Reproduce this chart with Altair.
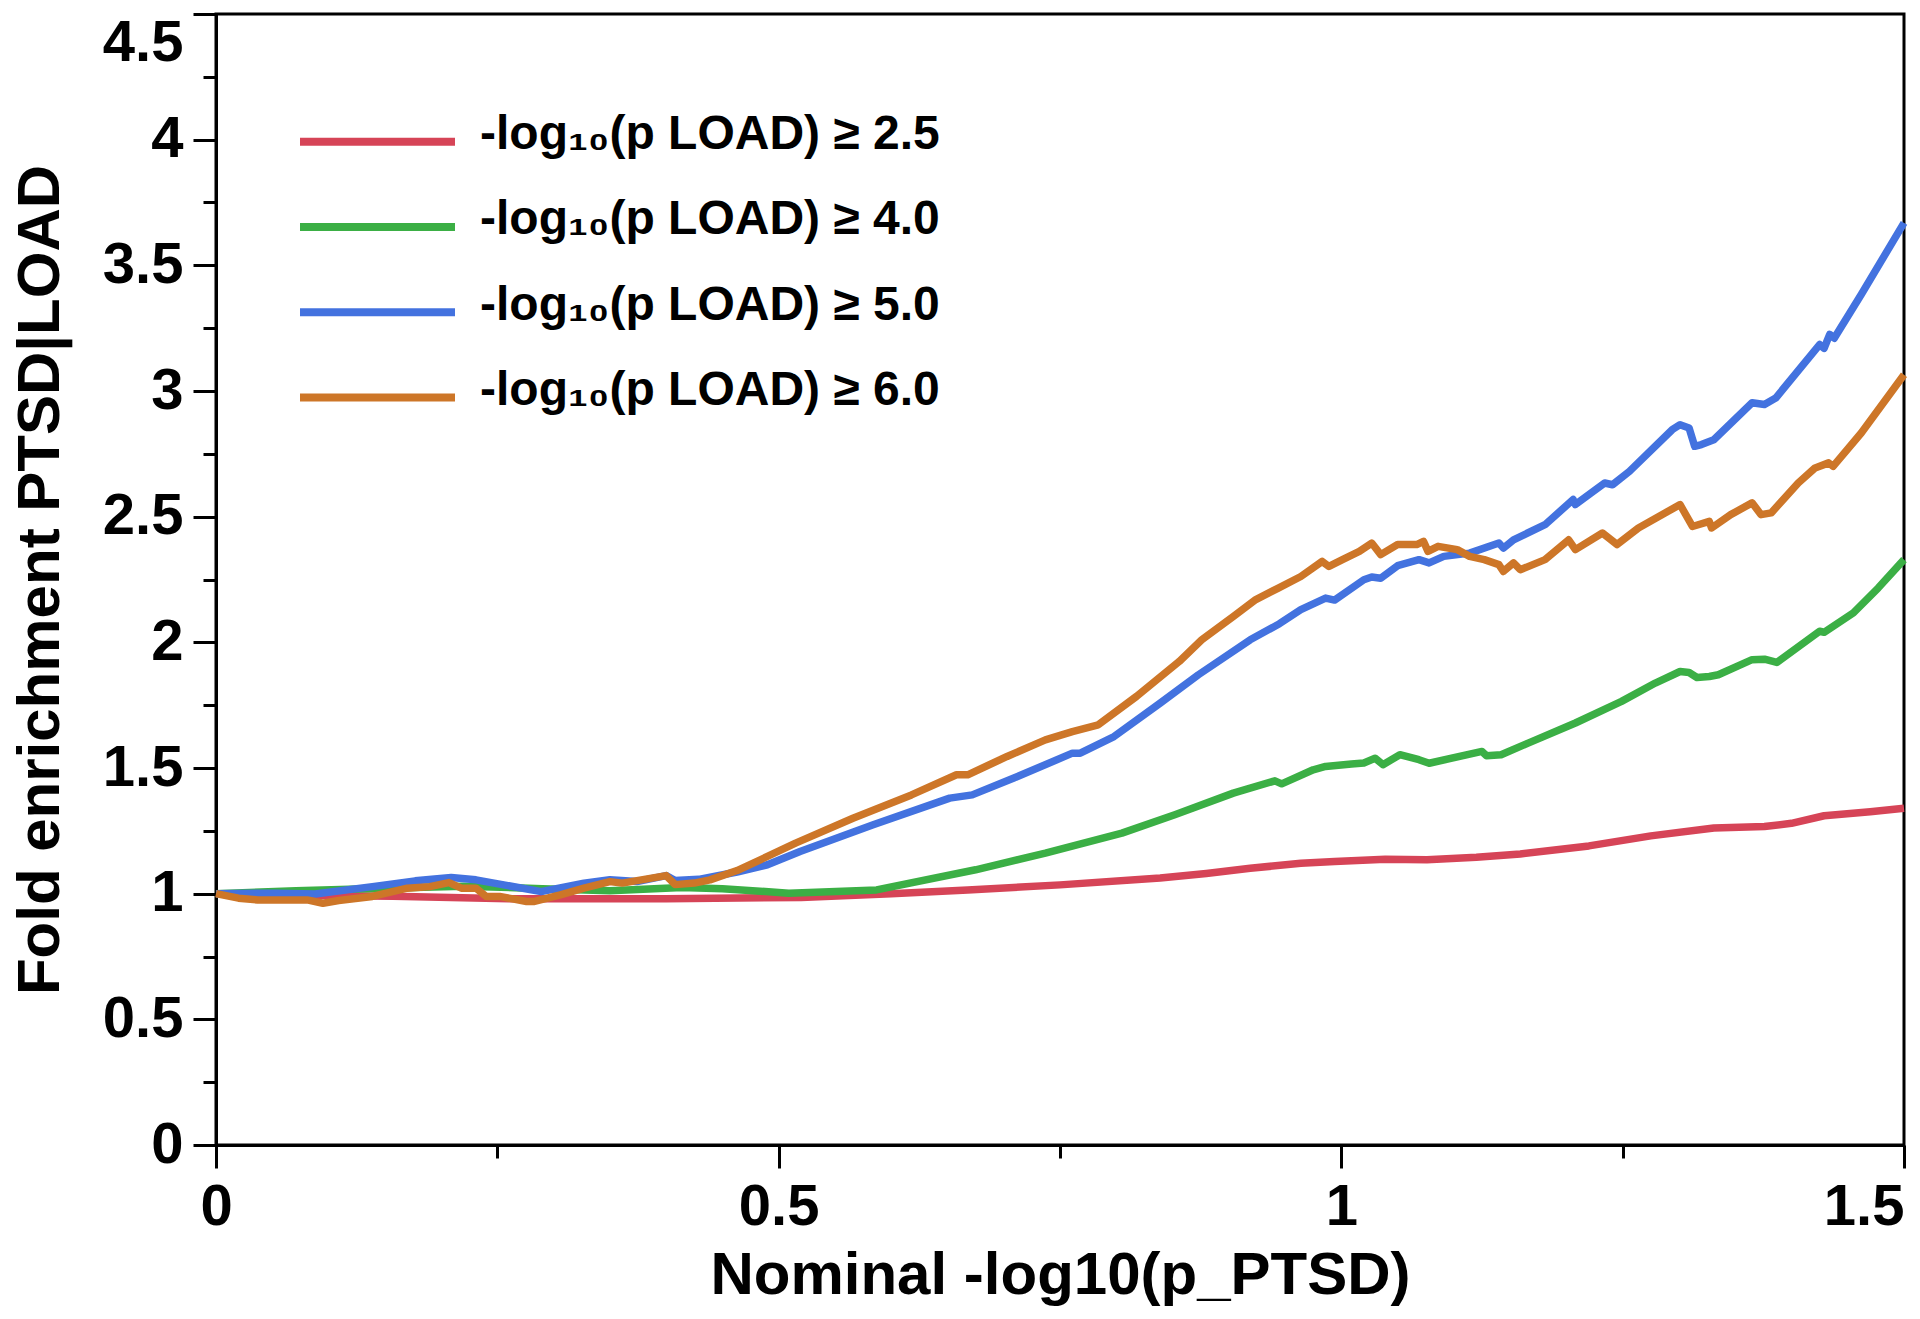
import altair as alt
import pandas as pd

FONT = "Liberation Sans"

series_names = [
    "-log₁₀(p LOAD) ≥ 2.5",
    "-log₁₀(p LOAD) ≥ 4.0",
    "-log₁₀(p LOAD) ≥ 5.0",
    "-log₁₀(p LOAD) ≥ 6.0",
]
series_colors = ["#D64457", "#3BAF45", "#4372DF", "#CD7628"]

red_x = [0, 0.05, 0.157, 0.26, 0.4, 0.52, 0.6, 0.668, 0.75, 0.839, 0.88, 0.919,
         0.964, 0.994, 1.039, 1.076, 1.12, 1.159, 1.22, 1.275, 1.331, 1.376,
         1.40, 1.429, 1.47, 1.5]
red_y = [1.0, 0.995, 0.99, 0.98, 0.98, 0.985, 1.0, 1.015, 1.035, 1.062, 1.08,
         1.101, 1.121, 1.128, 1.137, 1.135, 1.145, 1.158, 1.19, 1.23, 1.261,
         1.267, 1.28, 1.31, 1.326, 1.34]

green_x = [0, 0.071, 0.15, 0.22, 0.29, 0.35, 0.414, 0.45, 0.509, 0.587, 0.675,
           0.737, 0.805, 0.852, 0.904, 0.941, 0.947, 0.975, 0.986, 1.009, 1.020,
           1.030, 1.037, 1.052, 1.069, 1.078, 1.125, 1.129, 1.142, 1.166, 1.208,
           1.249, 1.279, 1.301, 1.309, 1.316, 1.327, 1.335, 1.365, 1.376, 1.387,
           1.425, 1.429, 1.455, 1.477, 1.5]
green_y = [1.0, 1.012, 1.022, 1.03, 1.02, 1.012, 1.025, 1.02, 1.002, 1.015, 1.095,
           1.161, 1.241, 1.314, 1.400, 1.449, 1.437, 1.493, 1.506, 1.516, 1.52,
           1.539, 1.513, 1.553, 1.533, 1.519, 1.566, 1.549, 1.553, 1.599, 1.679,
           1.765, 1.838, 1.884, 1.88, 1.860, 1.864, 1.871, 1.931, 1.933, 1.920,
           2.044, 2.04, 2.117, 2.216, 2.329]

blue_x = [0, 0.054, 0.088, 0.139, 0.177, 0.209, 0.231, 0.289, 0.327, 0.350, 0.374,
          0.400, 0.408, 0.429, 0.463, 0.490, 0.519, 0.584, 0.652, 0.672, 0.709,
          0.761, 0.768, 0.798, 0.839, 0.873, 0.919, 0.945, 0.964, 0.986, 0.994,
          1.020, 1.027, 1.035, 1.050, 1.069, 1.078, 1.091, 1.114, 1.140, 1.144,
          1.153, 1.181, 1.206, 1.208, 1.234, 1.241, 1.256, 1.294, 1.301, 1.309,
          1.314, 1.320, 1.331, 1.365, 1.376, 1.386, 1.425, 1.429, 1.434, 1.438,
          1.462, 1.5]
blue_y = [1.0, 1.002, 0.999, 1.028, 1.051, 1.064, 1.055, 1.008, 1.042, 1.055, 1.048,
          1.072, 1.052, 1.057, 1.086, 1.115, 1.168, 1.274, 1.380, 1.393, 1.460,
          1.559, 1.559, 1.625, 1.758, 1.871, 2.010, 2.074, 2.130, 2.176, 2.168,
          2.249, 2.26, 2.255, 2.305, 2.329, 2.316, 2.342, 2.355, 2.395, 2.375,
          2.408, 2.468, 2.568, 2.548, 2.634, 2.627, 2.680, 2.846, 2.866, 2.853,
          2.780, 2.787, 2.806, 2.953, 2.946, 2.972, 3.185, 3.17, 3.225, 3.21,
          3.384, 3.669]

orange_x = [0, 0.020, 0.037, 0.064, 0.081, 0.095, 0.109, 0.139, 0.170, 0.19, 0.207,
            0.218, 0.231, 0.240, 0.252, 0.276, 0.283, 0.306, 0.327, 0.350, 0.361,
            0.378, 0.400, 0.408, 0.425, 0.439, 0.463, 0.490, 0.515, 0.566, 0.618,
            0.658, 0.668, 0.703, 0.737, 0.761, 0.784, 0.818, 0.856, 0.876, 0.904,
            0.924, 0.944, 0.964, 0.983, 0.989, 1.001, 1.016, 1.027, 1.035, 1.050,
            1.067, 1.073, 1.077, 1.086, 1.103, 1.114, 1.127, 1.140, 1.144, 1.153,
            1.159, 1.181, 1.202, 1.208, 1.232, 1.245, 1.264, 1.290, 1.301, 1.312,
            1.327, 1.329, 1.346, 1.365, 1.373, 1.382, 1.406, 1.421, 1.433, 1.437,
            1.462, 1.5]
orange_y = [1.0, 0.982, 0.975, 0.975, 0.975, 0.962, 0.973, 0.989, 1.022, 1.028, 1.044,
            1.022, 1.022, 0.989, 0.989, 0.969, 0.969, 0.995, 1.022, 1.048, 1.042,
            1.055, 1.072, 1.036, 1.042, 1.055, 1.092, 1.148, 1.201, 1.30, 1.393,
            1.473, 1.473, 1.546, 1.612, 1.645, 1.672, 1.785, 1.924, 2.010, 2.103,
            2.170, 2.216, 2.262, 2.322, 2.302, 2.329, 2.362, 2.395, 2.349, 2.389,
            2.389, 2.402, 2.362, 2.382, 2.369, 2.342, 2.329, 2.309, 2.282, 2.316,
            2.289, 2.329, 2.408, 2.369, 2.435, 2.389, 2.455, 2.521, 2.548, 2.461,
            2.481, 2.455, 2.508, 2.555, 2.508, 2.515, 2.634, 2.694, 2.714, 2.70,
            2.833, 3.065]

x_major = [0, 0.5, 1.0, 1.5]
x_minor = [0.25, 0.75, 1.25]
y_major = [0, 0.5, 1.0, 1.5, 2.0, 2.5, 3.0, 3.5, 4.0, 4.5]
y_minor = [0.25, 0.75, 1.25, 1.75, 2.25, 2.75, 3.25, 3.75, 4.25]

x_title = "Nominal -log10(p_PTSD)"
y_title = "Fold enrichment PTSD|LOAD"

rows = []
for name, xs, ys in zip(series_names,
                        [red_x, green_x, blue_x, orange_x],
                        [red_y, green_y, blue_y, orange_y]):
    for i, (a, b) in enumerate(zip(xs, ys)):
        rows.append({"series": name, "x": a, "y": b, "order": i})
df = pd.DataFrame(rows)

x_scale = alt.Scale(domain=[0, 1.5], nice=False, zero=False)
y_scale = alt.Scale(domain=[0, 4.5], nice=False, zero=False)

lines = alt.Chart(df).mark_line(strokeWidth=7.5, strokeJoin="round").encode(
    x=alt.X("x:Q", scale=x_scale, axis=alt.Axis(
        values=x_major, tickSize=23, labelPadding=10, labelFlush=False,
        labelAlign={"condition": {"test": "datum.value == 1.5", "value": "right"},
                    "value": "center"},
        labelExpr="format(datum.value, '~g')",
        title=x_title, titlePadding=10, grid=False)),
    y=alt.Y("y:Q", scale=y_scale, axis=alt.Axis(
        values=y_major, tickSize=23, labelPadding=10,
        labelBaseline={"condition": {"test": "datum.value == 4.5", "value": "top"},
                       "value": "middle"},
        labelExpr="format(datum.value, '~g')",
        title=y_title, titlePadding=31, grid=False)),
    color=alt.Color("series:N", sort=series_names,
                    scale=alt.Scale(domain=series_names, range=series_colors),
                    legend=alt.Legend(
                        title=None, orient="none", legendX=137.5, legendY=97,
                        direction="vertical", symbolType="M-5,0.43H5",
                        symbolSize=961, symbolStrokeWidth=8,
                        labelFont=FONT, labelFontSize=48, labelFontWeight="bold",
                        labelColor="black", labelOffset=78.5, rowPadding=37.3,
                        padding=0, labelLimit=0)),
    order="order:Q",
)

minor = alt.Chart(df).mark_line(opacity=0).encode(
    x=alt.X("x:Q", scale=x_scale, axis=alt.Axis(
        values=x_minor, tickSize=13, labels=False, domain=False, title=None,
        grid=False, orient="bottom")),
    y=alt.Y("y:Q", scale=y_scale, axis=alt.Axis(
        values=y_minor, tickSize=13, labels=False, domain=False, title=None,
        grid=False, orient="left")),
    detail="series:N",
    order="order:Q",
)

chart = alt.layer(lines, minor).resolve_axis(
    x="independent", y="independent"
).properties(
    width=1688, height=1131,
    autosize="none",
    padding={"left": 208, "top": 6, "right": 8, "bottom": 164},
).configure_view(
    stroke="black", strokeWidth=3
).configure_axis(
    domainColor="black", domainWidth=3, tickColor="black", tickWidth=3,
    labelFont=FONT, labelFontSize=58, labelFontWeight="bold", labelColor="black",
    titleFont=FONT, titleFontSize=60, titleFontWeight="bold", titleColor="black",
)

chart.save("out.html", embed_options={"renderer": "svg", "actions": False})
